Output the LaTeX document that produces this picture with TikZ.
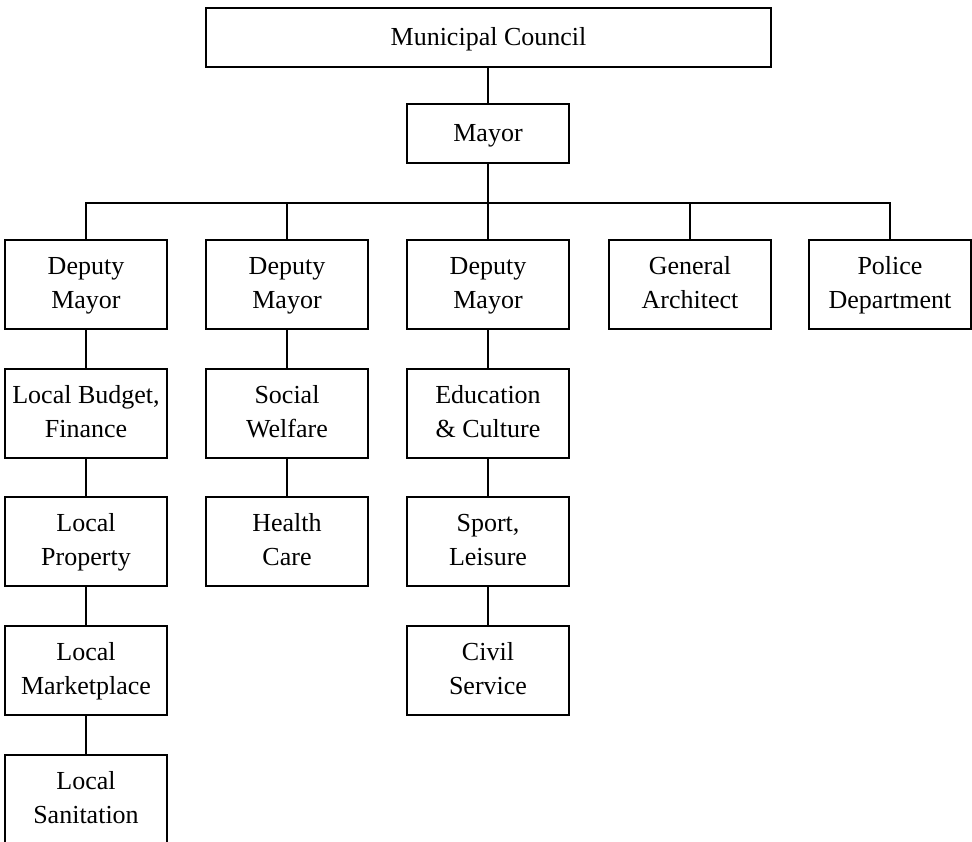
\documentclass[tikz,border=0pt]{standalone}
\usepackage{fontspec}
\setmainfont{Liberation Serif}
% fixed line height so that every two-line label sits alike
\newcommand\linestrut{\rule[-6pt]{0pt}{26.5pt}}
\newcommand\twolines[2]{\linestrut#1\\\linestrut#2}
\begin{document}
\begin{tikzpicture}[x=1pt,y=1pt,
  unit/.style={draw, line width=1.1pt, minimum width=162pt, minimum height=89pt,
    inner sep=0pt, align=center, font=\fontsize{26}{34}\selectfont},
  head/.style={unit, minimum height=59pt, text height=20pt, text depth=4pt},
  link/.style={line width=1.1pt}]
\useasboundingbox (0,0) rectangle (972,-842);
% top of the hierarchy
\node[head, minimum width=565pt] (council) at (488.5,-37.5) {Municipal Council};
\node[head] (mayor) at (488,-133.5) {Mayor};
% first level
\node[unit] (d1) at (86,-284.5) {\twolines{Deputy}{Mayor}};
\node[unit] (d2) at (287,-284.5) {\twolines{Deputy}{Mayor}};
\node[unit] (d3) at (488,-284.5) {\twolines{Deputy}{Mayor}};
\node[unit] (arch) at (690,-284.5) {\twolines{General}{Architect}};
\node[unit] (police) at (890,-284.5) {\twolines{Police}{Department}};
% first deputy's departments
\node[unit] (budget) at (86,-413.5) {\twolines{Local Budget,}{Finance}};
\node[unit] (property) at (86,-541.5) {\twolines{Local}{Property}};
\node[unit] (market) at (86,-670.5) {\twolines{Local}{Marketplace}};
\node[unit] (sanit) at (86,-799.5) {\twolines{Local}{Sanitation}};
% second deputy's departments
\node[unit] (social) at (287,-413.5) {\twolines{Social}{Welfare}};
\node[unit] (health) at (287,-541.5) {\twolines{Health}{Care}};
% third deputy's departments
\node[unit] (edu) at (488,-413.5) {\twolines{Education}{\& Culture}};
\node[unit] (sport) at (488,-541.5) {\twolines{Sport,}{Leisure}};
\node[unit] (civil) at (488,-670.5) {\twolines{Civil}{Service}};
% connectors
\coordinate (bus) at (488,-203);
\draw[link] (mayor.north |- council.south) -- (mayor.north);
\draw[link] (mayor) -- (d3);
\draw[link] (d1.north) -- (d1.north |- bus) -- (police.north |- bus) -- (police.north);
\draw[link] (d2.north) -- (d2.north |- bus);
\draw[link] (arch.north) -- (arch.north |- bus);
\draw[link] (d1) -- (budget);
\draw[link] (budget) -- (property);
\draw[link] (property) -- (market);
\draw[link] (market) -- (sanit);
\draw[link] (d2) -- (social);
\draw[link] (social) -- (health);
\draw[link] (d3) -- (edu);
\draw[link] (edu) -- (sport);
\draw[link] (sport) -- (civil);
\end{tikzpicture}
\end{document}
